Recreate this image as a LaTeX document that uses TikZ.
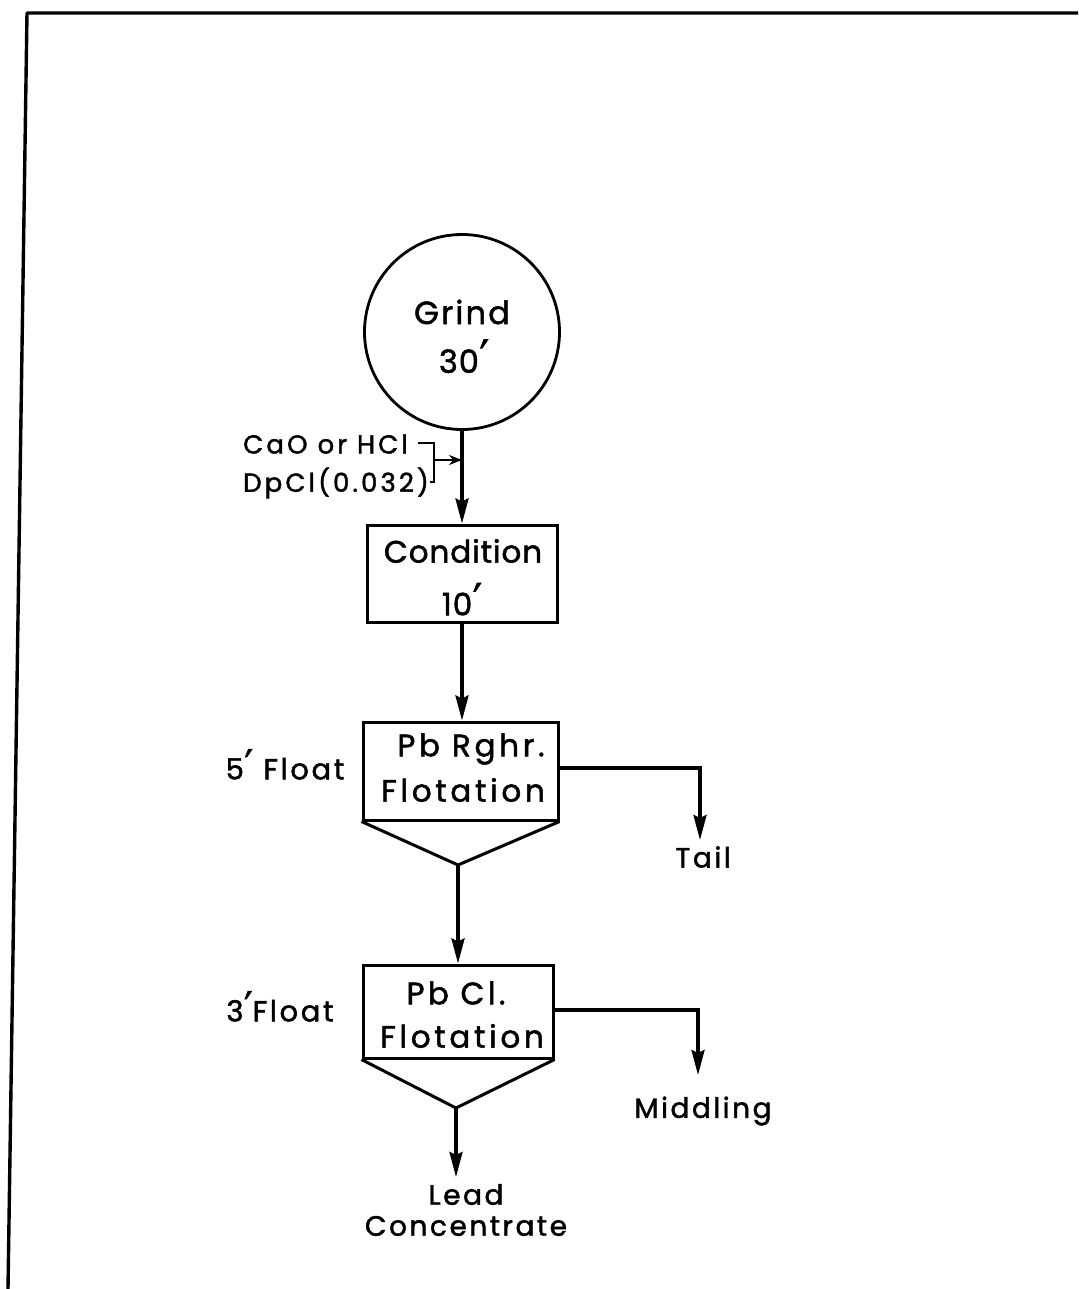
\documentclass[tikz,border=0pt]{standalone}
\usepackage{fontspec}
\usepackage{graphicx}
\setmainfont{Poppins}[LetterSpace=3,FakeBold=1.6]
\newfontfamily\djv{DejaVu Sans}[FakeBold=1.6]
\usetikzlibrary{arrows.meta}
\newcommand{\prm}{\kern0.02em\raisebox{-0.05em}{\scalebox{1.3}[1.5]{\djv\char"2032}}}
\newcommand{\ls}[1]{\addfontfeatures{LetterSpace=#1}}
\begin{document}
\begin{tikzpicture}[x=1pt,y=-1pt,
  flow/.style={line width=3.2pt,-{Stealth[length=25pt,width=13pt,inset=3pt]}},
  procbox/.style={draw,line width=3pt,rectangle,inner sep=0pt},
  lbl/.style={font=\fontsize{31}{36}\selectfont,inner sep=0pt,align=center},
  side/.style={font=\fontsize{28}{32}\selectfont\ls{9},inner sep=0pt,align=center},
  small/.style={font=\fontsize{26}{30}\selectfont\ls{12},inner sep=0pt,anchor=west}]
\useasboundingbox (0,0) rectangle (1078,1289);
\fill[white] (0,0) rectangle (1078,1289);
% frame
\draw[line width=3.4pt,line join=round] (8,1289) -- (27,13) -- (1078,13);
% grind
\node[draw,circle,line width=2.8pt,minimum size=195pt,inner sep=0pt] (grind) at (462,332) {};
\node[lbl,font=\fontsize{32}{36}\selectfont\ls{7}] (grindt) at (462,312) {Grind};
\node[lbl,font=\fontsize{32}{36}\selectfont\ls{3}] (grindn) at (464,357) {30\prm};
% condition
\node[procbox,minimum width=190pt,minimum height=97pt] (cond) at (462,573.5) {};
\node[lbl] (condt) at (463,551) {Condition};
\node[lbl] (condn) at (462,600) {10\prm};
% Pb rougher
\node[procbox,minimum width=195pt,minimum height=98pt] (rgh) at (460.5,771) {};
\node[lbl,font=\fontsize{31}{36}\selectfont\ls{12}] (rght) at (471,749) {Pb Rghr.};
\node[lbl,font=\fontsize{31}{36}\selectfont\ls{12}] (rghf) at (463,790) {Flotation};
\coordinate (rghv) at (458,865);
\draw[line width=3pt,line join=round] (rgh.south west) -- (rghv) -- (rgh.south east);
% Pb cleaner
\node[procbox,minimum width=190pt,minimum height=93pt] (cln) at (458,1011.5) {};
\node[lbl,font=\fontsize{31}{36}\selectfont\ls{11}] (clnt) at (456,993) {Pb Cl.};
\node[lbl,font=\fontsize{31}{36}\selectfont\ls{12}] (clnf) at (462,1036) {Flotation};
\coordinate (clnv) at (456,1108);
\draw[line width=3pt,line join=round] (cln.south west) -- (clnv) -- (cln.south east);
% side labels
\node[side,font=\fontsize{29}{32}\selectfont\ls{9}] (f5) at (285,765) {5\prm\ Float};
\node[side,font=\fontsize{29}{32}\selectfont\ls{9}] (f3) at (280,1007) {3\prm Float};
\node[side] (tail) at (703,857) {Tail};
\node[side] (mid) at (703,1111) {Middling};
\node[side] (lead) at (466,1210) {Lead\\[-1pt]Concentrate};
% reagents
\node[small] (cao) at (243,444) {CaO or HCl};
\node[small] (dpcl) at (243,483) {DpCl(0.032)};
\coordinate (bt) at (418,443);
\coordinate (bb) at (430,482);
\coordinate (bm) at (434,460);
\draw[line width=2.6pt] (bt) -- (434,443) -- (434,482) -- (bb);
% flows
\draw[flow] (grind.south) -- (grind.south |- cond.north);
\draw[line width=2.6pt,-{Stealth[length=13pt,width=10pt]}] (bm) -- (bm -| grind.south);
\draw[flow] (cond.south) -- (cond.south |- rgh.north);
\draw[flow] (rghv) -- (rghv |- cln.north);
\coordinate (leadc) at (456,1177);
\draw[flow] (clnv) -- (leadc);
\coordinate (tailc) at (700,768);
\draw[flow] (rgh.east |- tailc) -- (tailc) -- (700,840);
\coordinate (midc) at (698,1010);
\draw[flow] (cln.east |- midc) -- (midc) -- (698,1075);
\end{tikzpicture}
\end{document}
